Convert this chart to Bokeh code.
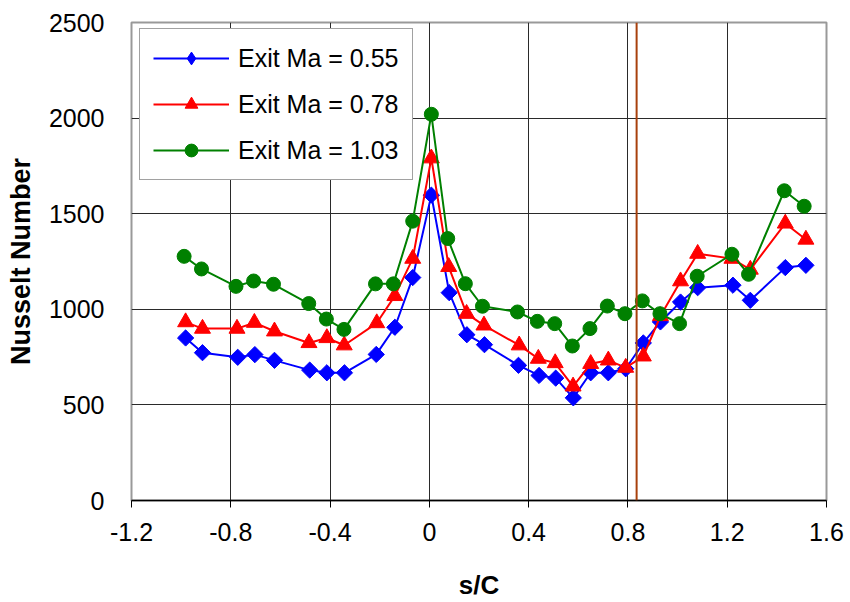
from bokeh.plotting import figure
from bokeh.models import Legend, LegendItem, FixedTicker, Span, Range1d
from bokeh.embed import file_html
from bokeh.resources import INLINE
import numpy as np

# ---- data ----
s_055 = [-0.982, -0.914, -0.772, -0.703, -0.624, -0.482, -0.413, -0.342, -0.214, -0.139,
         -0.067, 0.008, 0.080, 0.151, 0.222, 0.359, 0.442, 0.509, 0.580, 0.650,
         0.721, 0.791, 0.862, 0.931, 1.012, 1.081, 1.223, 1.293, 1.434, 1.517]
nu_055 = [850, 773, 749, 763, 733, 682, 668, 668, 764, 906,
          1166, 1597, 1087, 867, 815, 707, 654, 640, 537, 668,
          668, 689, 824, 934, 1038, 1113, 1126, 1047, 1218, 1230]

s_078 = [-0.982, -0.914, -0.775, -0.705, -0.624, -0.485, -0.413, -0.343, -0.212, -0.139,
         -0.067, 0.008, 0.078, 0.150, 0.220, 0.362, 0.439, 0.507, 0.579, 0.650,
         0.721, 0.791, 0.862, 0.931, 1.012, 1.081, 1.219, 1.293, 1.434, 1.517]
nu_078 = [933, 899, 899, 930, 885, 824, 850, 812, 928, 1070,
          1265, 1790, 1222, 977, 916, 812, 742, 719, 597, 715,
          733, 695, 754, 965, 1147, 1291, 1265, 1208, 1449, 1365]

s_103 = [-0.988, -0.918, -0.779, -0.708, -0.628, -0.486, -0.415, -0.344, -0.217, -0.145,
         -0.067, 0.008, 0.074, 0.145, 0.214, 0.355, 0.435, 0.505, 0.576, 0.647,
         0.717, 0.788, 0.858, 0.929, 1.008, 1.079, 1.219, 1.286, 1.430, 1.510]
nu_103 = [1277, 1211, 1120, 1148, 1131, 1030, 949, 895, 1133, 1133,
          1461, 2020, 1370, 1134, 1016, 986, 937, 925, 808, 899,
          1017, 977, 1044, 977, 925, 1173, 1288, 1183, 1620, 1539]

series_labels = ["Exit Ma = 0.55", "Exit Ma = 0.78", "Exit Ma = 1.03"]
x_ticks = [-1.2, -0.8, -0.4, 0.0, 0.4, 0.8, 1.2, 1.6]
x_tick_labels = ["-1.2", "-0.8", "-0.4", "0", "0.4", "0.8", "1.2", "1.6"]
y_ticks = [0, 500, 1000, 1500, 2000, 2500]
marker_line_s = 0.835

FONT = "Liberation Sans"
BLUE, RED, GREEN = "#0000FF", "#FF0000", "#008000"

p = figure(width=850, height=602, output_backend="svg", toolbar_location=None,
           x_range=Range1d(-1.2, 1.6), y_range=Range1d(0, 2500),
           min_border_left=131, min_border_right=24, min_border_top=22,
           min_border_bottom=102)
p.background_fill_color = "white"
p.border_fill_color = "white"
p.outline_line_color = "#999999"
p.outline_line_width = 2

# grid
p.xgrid.ticker = FixedTicker(ticks=x_ticks)
p.ygrid.ticker = FixedTicker(ticks=y_ticks)
for g in (p.xgrid, p.ygrid):
    g.grid_line_color = "#2a2a2a"
    g.grid_line_width = 1

# axes
xa = p.xaxis[0]
xa.ticker = FixedTicker(ticks=x_ticks)
xa.major_label_overrides = {t: l for t, l in zip(x_ticks, x_tick_labels)}
xa.axis_line_color = "black"
xa.axis_line_width = 1.5
xa.major_tick_line_color = "black"
xa.major_tick_out = 7
xa.major_tick_in = 0
xa.minor_tick_line_color = None
xa.major_label_text_font = FONT
xa.major_label_text_font_size = "25px"
xa.major_label_text_color = "black"
xa.major_label_standoff = 15
xa.axis_label = "s/C"
xa.axis_label_text_font = FONT
xa.axis_label_text_font_style = "bold"
xa.axis_label_text_font_size = "26px"
xa.axis_label_standoff = 26
xa.axis_label_text_color = "black"

ya = p.yaxis[0]
ya.ticker = FixedTicker(ticks=y_ticks)
ya.axis_line_color = None
ya.major_tick_line_color = None
ya.minor_tick_line_color = None
ya.major_label_text_font = FONT
ya.major_label_text_font_size = "25px"
ya.major_label_text_color = "black"
ya.major_label_standoff = 21
ya.axis_label = "Nusselt Number"
ya.axis_label_text_font = FONT
ya.axis_label_text_font_style = "bold"
ya.axis_label_text_font_size = "27px"
ya.axis_label_standoff = 10
ya.axis_label_text_color = "black"

# vertical marker line
p.add_layout(Span(location=marker_line_s, dimension="height",
                  line_color="#A8400C", line_width=2))

# series
l1 = p.line(s_055, nu_055, line_color=BLUE, line_width=2)
m1 = p.scatter(s_055, nu_055, marker="square", angle=np.pi / 4, size=11.5,
               fill_color=BLUE, line_color=BLUE)
l2 = p.line(s_078, nu_078, line_color=RED, line_width=2)
m2 = p.scatter(s_078, nu_078, marker="triangle", size=16,
               fill_color=RED, line_color=RED)
l3 = p.line(s_103, nu_103, line_color=GREEN, line_width=2)
m3 = p.scatter(s_103, nu_103, marker="circle", size=14,
               fill_color=GREEN, line_color=GREEN)

# legend-only diamond glyph (a single off-plot NaN point)
k1 = p.scatter(x=[float("nan")], y=[float("nan")], marker="diamond", size=22,
               fill_color=BLUE, line_color=BLUE)

legend = Legend(items=[
    LegendItem(label=series_labels[0], renderers=[l1, k1]),
    LegendItem(label=series_labels[1], renderers=[l2, m2]),
    LegendItem(label=series_labels[2], renderers=[l3, m3]),
], location=(8, 320))
legend.label_text_font = FONT
legend.label_text_font_size = "25px"
legend.label_text_color = "black"
legend.glyph_width = 76
legend.glyph_height = 32
legend.label_height = 32
legend.label_standoff = 9
legend.spacing = 14
legend.padding = 13
legend.margin = 0
legend.border_line_color = "#444444"
legend.border_line_width = 1
legend.background_fill_color = "white"
legend.background_fill_alpha = 1
p.add_layout(legend)

open("out.html", "w").write(file_html(p, INLINE))
